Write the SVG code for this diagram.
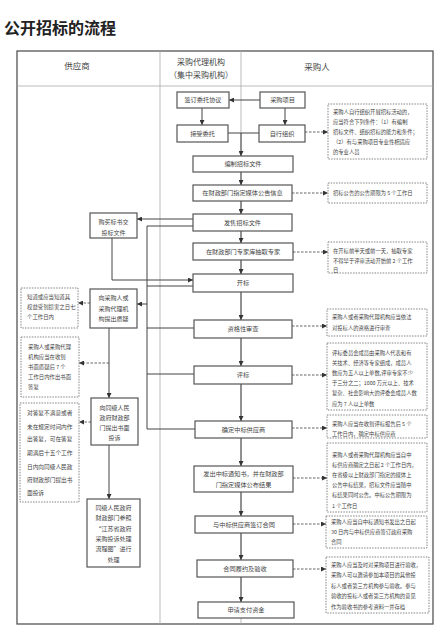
<svg xmlns="http://www.w3.org/2000/svg" width="448" height="638" viewBox="0 0 448 638">
<style>
text{font-family:"Noto Sans CJK SC","Liberation Sans",sans-serif;fill:#444}
.title{font-size:16px;font-weight:bold;fill:#222}
.hd{font-size:8.5px;text-anchor:middle}
.b{fill:#fff;stroke:#555;stroke-width:1.2}
.n{fill:#fff;stroke:#777;stroke-width:0.9;stroke-dasharray:1.5,1.2}
.t{font-size:6.2px;text-anchor:middle}
.lt{font-size:6px;text-anchor:middle}
.rn{font-size:5.3px}
.ln{font-size:5.4px}
.c{fill:none;stroke:#444;stroke-width:1}
.d{fill:none;stroke:#555;stroke-width:0.9;stroke-dasharray:2.5,1.5}
.frame{fill:#fff;stroke:#555;stroke-width:1.3}
.div{stroke:#aaa;stroke-width:0.8}
</style>
<defs>
<marker id="a" viewBox="0 0 6 6" refX="6" refY="3" markerWidth="5" markerHeight="5" orient="auto" markerUnits="userSpaceOnUse"><path d="M0,0 L6,3 L0,6z" fill="#333"/></marker>
</defs>
<rect width="448" height="638" fill="#fff"/>
<text class="title" x="4" y="34">公开招标的流程</text>
<g id="frame">
<rect class="frame" x="17" y="51" width="416" height="573"/>
<line class="div" x1="17" y1="86" x2="433" y2="86"/>
<line class="div" x1="160" y1="51" x2="160" y2="624"/>
<line class="div" x1="241" y1="51" x2="241" y2="624"/>
<text class="hd" x="77" y="69">供应商</text>
<text class="hd" x="201" y="65" style="font-size:8px">采购代理机构</text>
<text class="hd" x="201" y="78" style="font-size:8px">（集中采购机构）</text>
<text class="hd" x="317" y="70">采购人</text>
</g>
<g id="connectors">
<path class="c" d="M260,100 H229" marker-end="url(#a)"/>
<path class="c" d="M202,108 V125" marker-end="url(#a)"/>
<path class="c" d="M285,108 V125" marker-end="url(#a)"/>
<path class="c" d="M228,133 H259"/>
<path class="c" d="M241,133 V156" marker-end="url(#a)"/>
<path class="c" d="M241,172 V185" marker-end="url(#a)"/>
<path class="c" d="M241,201 V214" marker-end="url(#a)"/>
<path class="c" d="M241,231 V243" marker-end="url(#a)"/>
<path class="c" d="M241,260 V274" marker-end="url(#a)"/>
<path class="c" d="M241,292 V320" marker-end="url(#a)"/>
<path class="c" d="M241,338 V366" marker-end="url(#a)"/>
<path class="c" d="M241,384 V421" marker-end="url(#a)"/>
<path class="c" d="M241,438 V466" marker-end="url(#a)"/>
<path class="c" d="M241,492 V516" marker-end="url(#a)"/>
<path class="c" d="M241,533 V560" marker-end="url(#a)"/>
<path class="c" d="M241,577 V602" marker-end="url(#a)"/>
<path class="c" d="M193,219 H137" marker-end="url(#a)"/>
<path class="c" d="M112,238 V280 H193" marker-end="url(#a)"/>
<path class="c" d="M193,226 H147 V429 H195"/>
<path class="c" d="M193,286 H147"/>
<path class="c" d="M194,328 H147"/>
<path class="c" d="M194,374 H147"/>
<path class="c" d="M147,304 H137" marker-end="url(#a)"/>
<path class="c" d="M109,328 V398" marker-end="url(#a)"/>
<path class="c" d="M109,445 V499" marker-end="url(#a)"/>
<path class="d" d="M305,132 H328" marker-end="url(#a)"/>
<path class="d" d="M292,193 H328" marker-end="url(#a)"/>
<path class="d" d="M293,252 H328" marker-end="url(#a)"/>
<path class="d" d="M292,326 H327" marker-end="url(#a)"/>
<path class="d" d="M292,375 H327" marker-end="url(#a)"/>
<path class="d" d="M292,428 H327" marker-end="url(#a)"/>
<path class="d" d="M293,478 H327" marker-end="url(#a)"/>
<path class="d" d="M293,524 H326" marker-end="url(#a)"/>
<path class="d" d="M293,569 H326" marker-end="url(#a)"/>
<path class="d" d="M90,303 H78" marker-end="url(#a)"/>
<path class="d" d="M109,363 H79" marker-end="url(#a)"/>
<path class="d" d="M91,422 H79" marker-end="url(#a)"/>
</g>
<g id="n-qdwt"><rect class="b" x="177" y="92" width="52" height="16"/><text class="t" x="203" y="102.2">签订委托协议</text></g>
<g id="n-cgxm"><rect class="b" x="260" y="92" width="45" height="16"/><text class="t" x="282.5" y="102.2">采购项目</text></g>
<g id="n-jswt"><rect class="b" x="177" y="125" width="51" height="17"/><text class="t" x="202.5" y="135.7">接受委托</text></g>
<g id="n-zxzz"><rect class="b" x="259" y="125" width="46" height="17"/><text class="t" x="282" y="135.7">自行组织</text></g>
<g id="n-bzzb"><rect class="b" x="193" y="156" width="100" height="16"/><text class="t" x="243" y="166.2">编制招标文件</text></g>
<g id="n-gg"><rect class="b" x="193" y="185" width="99" height="16"/><text class="t" x="242.5" y="195.2">在财政部门指定媒体公告信息</text></g>
<g id="n-fs"><rect class="b" x="193" y="214" width="99" height="17"/><text class="t" x="242.5" y="224.7">发售招标文件</text></g>
<g id="n-zj"><rect class="b" x="193" y="243" width="100" height="17"/><text class="t" x="243" y="253.7">在财政部门专家库抽取专家</text></g>
<g id="n-kb"><rect class="b" x="193" y="274" width="100" height="18"/><text class="t" x="243" y="285.2">开标</text></g>
<g id="n-zg"><rect class="b" x="194" y="320" width="98" height="18"/><text class="t" x="243" y="331.2">资格性审查</text></g>
<g id="n-pb"><rect class="b" x="194" y="366" width="98" height="18"/><text class="t" x="243" y="377.2">评标</text></g>
<g id="n-qd"><rect class="b" x="195" y="421" width="97" height="17"/><text class="t" x="243.5" y="431.7">确定中标供应商</text></g>
<g id="n-fc"><rect class="b" x="194" y="466" width="99" height="26"/><text class="t" x="243.5" y="476.2">发出中标通知书，并在财政部</text><text class="t" x="243.5" y="487.2">门指定媒体公布结果</text></g>
<g id="n-ht"><rect class="b" x="195" y="516" width="98" height="17"/><text class="t" x="244" y="526.7">与中标供应商签订合同</text></g>
<g id="n-ly"><rect class="b" x="197" y="560" width="96" height="17"/><text class="t" x="245" y="570.7">合同履约及验收</text></g>
<g id="n-zf"><rect class="b" x="198" y="602" width="96" height="16"/><text class="t" x="246" y="612.2">申请支付资金</text></g>
<g id="n-lg"><rect class="b" x="90" y="213" width="47" height="25"/><text class="lt" x="113.5" y="224">购买标书交</text><text class="lt" x="113.5" y="235">投标文件</text></g>
<g id="n-zy"><rect class="b" x="90" y="289" width="47" height="39"/><text class="lt" x="113.5" y="300">向采购人或</text><text class="lt" x="113.5" y="311">采购代理机</text><text class="lt" x="113.5" y="321">构提出质疑</text></g>
<g id="n-ts"><rect class="b" x="91" y="398" width="47" height="47"/><text class="lt" x="114.5" y="410">向同级人民</text><text class="lt" x="114.5" y="420">政府财政部</text><text class="lt" x="114.5" y="430">门提出书面</text><text class="lt" x="114.5" y="440">投诉</text></g>
<g id="n-cl"><rect class="b" x="87" y="499" width="53" height="68"/><text class="lt" x="113.5" y="510">同级人民政府</text><text class="lt" x="113.5" y="520">财政部门参照</text><text class="lt" x="113.5" y="531">“江苏省政府</text><text class="lt" x="113.5" y="541">采购投诉处理</text><text class="lt" x="113.5" y="551">流程图”进行</text><text class="lt" x="113.5" y="562">处理</text></g>
<g id="ln1"><rect class="n" x="21" y="288" width="57" height="40"/><text class="ln" x="27" y="299">知道或应当知道其</text><text class="ln" x="27" y="309">权益受到损害之日七</text><text class="ln" x="27" y="319">个工作日内</text></g>
<g id="ln2"><rect class="n" x="21" y="337" width="58" height="60"/><text class="ln" x="28" y="349">采购人或采购代理</text><text class="ln" x="28" y="359">机构应当在收到</text><text class="ln" x="28" y="369">书面质疑后 7 个</text><text class="ln" x="28" y="379">工作日内作出书面</text><text class="ln" x="28" y="389">答复</text></g>
<g id="ln3"><rect class="n" x="20" y="403" width="59" height="99"/><text class="ln" x="27" y="415" style="font-size:5.7px">对答复不满意或者</text><text class="ln" x="27" y="429" style="font-size:5.7px">未在规定时间内作</text><text class="ln" x="27" y="441" style="font-size:5.7px">出答复，可在答复</text><text class="ln" x="27" y="455" style="font-size:5.7px">期满后十五个工作</text><text class="ln" x="27" y="469" style="font-size:5.7px">日内向同级人民政</text><text class="ln" x="27" y="482" style="font-size:5.7px">府财政部门提出书</text><text class="ln" x="27" y="495" style="font-size:5.7px">面投诉</text></g>
<g id="rn1"><rect class="n" x="328" y="104" width="99" height="55"/><text class="rn" x="333" y="114">采购人自行组织开展招标活动的，</text><text class="rn" x="333" y="124">应当符合下列条件：（1）有编制</text><text class="rn" x="333" y="134">招标文件、组织招标的能力和条件；</text><text class="rn" x="333" y="144">（2）有与采购项目专业性相适应</text><text class="rn" x="333" y="154">的专业人员</text></g>
<g id="rn2"><rect class="n" x="328" y="183" width="99" height="20"/><text class="rn" x="333" y="195">招标公告的公告期限为 5 个工作日</text></g>
<g id="rn3"><rect class="n" x="328" y="242" width="99" height="31"/><text class="rn" x="333" y="253">在开标前半天或前一天，抽取专家</text><text class="rn" x="333" y="263">不得早于评审活动开始前 2 个工作</text><text class="rn" x="333" y="272">日</text></g>
<g id="rn4"><rect class="n" x="327" y="309" width="100" height="27"/><text class="rn" x="332" y="319">采购人或者采购代理机构应当依法</text><text class="rn" x="332" y="330">对投标人的资格进行审查</text></g>
<g id="rn5"><rect class="n" x="327" y="343" width="100" height="67"/><text class="rn" x="332" y="355">评标委员会成员由采购人代表和有</text><text class="rn" x="332" y="365">关技术、经济等专家组成，成员人</text><text class="rn" x="332" y="375">数应为五人以上单数,评审专家不少</text><text class="rn" x="332" y="385">于三分之二；1000 万元以上、技术</text><text class="rn" x="332" y="395">复杂、社会影响大的评委会成员人数</text><text class="rn" x="332" y="406">应为 7 人以上单数</text></g>
<g id="rn6"><rect class="n" x="327" y="415" width="100" height="23"/><text class="rn" x="332" y="426">采购人应当在收到评标报告后 5 个</text><text class="rn" x="332" y="436">工作日内，确定中标供应商</text></g>
<g id="rn7"><rect class="n" x="327" y="443" width="100" height="69"/><text class="rn" x="332" y="457">采购人或者采购代理机构应当自中</text><text class="rn" x="332" y="467">标供应商确定之日起 2 个工作日内，</text><text class="rn" x="332" y="477">在省级以上财政部门指定的媒体上</text><text class="rn" x="332" y="487">公告中标结果，招标文件应当随中</text><text class="rn" x="332" y="497">标结果同时公告。中标公告期限为</text><text class="rn" x="332" y="508">1 个工作日</text></g>
<g id="rn8"><rect class="n" x="326" y="516" width="101" height="32"/><text class="rn" x="331" y="524">采购人应当自中标通知书发出之日起</text><text class="rn" x="331" y="534">30 日内与中标供应商签订政府采购</text><text class="rn" x="331" y="544">合同</text></g>
<g id="rn9"><rect class="n" x="326" y="557" width="103" height="56"/><text class="rn" x="331" y="567">采购人应当及时对采购项目进行验收，</text><text class="rn" x="331" y="577">采购人可以邀请参加本项目的其他投</text><text class="rn" x="331" y="588">标人或者第三方机构参与验收。参与</text><text class="rn" x="331" y="598">验收的投标人或者第三方机构的意见</text><text class="rn" x="331" y="609">作为验收书的参考资料一并存档</text></g>
</svg>
